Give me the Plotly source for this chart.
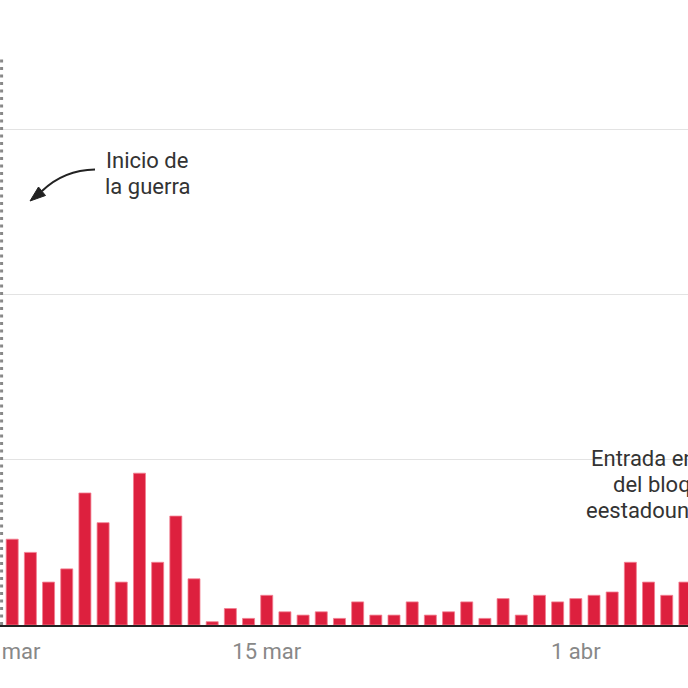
import plotly.graph_objects as go
import pandas as pd

# ---- data ----
start_date = "2026-03-01"
daily_values = [26, 22, 13, 17, 40, 31, 13, 46, 19, 33, 14, 1, 5, 2,
                9, 4, 3, 4, 2, 7, 3, 3, 7, 3, 4, 7, 2, 8, 3, 9, 7, 8,
                9, 10, 19, 13, 9, 13]
dates = pd.date_range(start_date, periods=len(daily_values), freq="D")
tick_dates = ["2026-03-01", "2026-03-15", "2026-04-01"]
tick_labels = ["1 mar", "15 mar", "1 abr"]
grid_values = [50, 100, 150]
war_start = "2026-02-28 10:00"
war_label = ["Inicio de", "la guerra"]
blockade_label = ["Entrada en vigor", "del bloqueo", "eestadounidense"]

W = H = 688
ML, MR, MT, MB = 0, 0, 55, 63
PW, PH = W - ML - MR, H - MT - MB


def px(x):
    return (x - ML) / PW


def py(y):
    return (H - MB - y) / PH


fig = go.Figure()
fig.add_trace(go.Bar(
    x=dates, y=daily_values,
    marker=dict(color="#DD203E", line=dict(color="#F27F91", width=0.8)),
    hoverinfo="skip",
))

fig.update_layout(
    width=W, height=H,
    margin=dict(l=ML, r=MR, t=MT, b=MB),
    paper_bgcolor="white", plot_bgcolor="white",
    bargap=0.34,
    showlegend=False,
    font=dict(family="Roboto", color="#333333"),
)
fig.update_xaxes(
    type="date",
    range=["2026-02-28 07:54", "2026-04-07 04:05"],
    tickmode="array", tickvals=tick_dates, ticktext=tick_labels,
    tickfont=dict(family="Roboto", size=22, color="#888888"),
    ticks="", showgrid=False, zeroline=False,
    showline=True, linecolor="#222222", linewidth=2,
    ticklabelstandoff=6,
    ticklabeloverflow="allow",
    automargin=False,
)
fig.update_yaxes(
    range=[0, 172.7],
    tickmode="array", tickvals=grid_values,
    showticklabels=False, ticks="",
    showgrid=True, gridcolor="#E3E3E3", gridwidth=1.2,
    zeroline=False, showline=False,
    automargin=False,
)

# war start dashed line
fig.add_shape(type="line", xref="x", yref="paper",
              x0=war_start, x1=war_start, y0=0, y1=1,
              line=dict(color="#888888", width=3, dash="3px,4.5px"),
              layer="above")

# curved arrow
path = (f"M {px(95)} {py(169.5)} Q {px(64)} {py(170)} {px(42)} {py(191)}")
fig.add_shape(type="path", xref="paper", yref="paper", path=path,
              line=dict(color="#222222", width=2))
head = (f"M {px(30)} {py(201)} L {px(45.5)} {py(195.5)} "
        f"L {px(38.5)} {py(187)} Z")
fig.add_shape(type="path", xref="paper", yref="paper", path=head,
              fillcolor="#222222", line=dict(color="#222222", width=1))

for i, line in enumerate(war_label):
    fig.add_annotation(xref="paper", yref="paper", x=px(147), y=py(160 + 26.6 * i),
                       text=line, showarrow=False, xanchor="center", yanchor="middle",
                       font=dict(family="Roboto", size=22, color="#333333"))
for i, line in enumerate(blockade_label):
    fig.add_annotation(xref="paper", yref="paper", x=px(670), y=py(458.5 + 26.2 * i),
                       text=line, showarrow=False, xanchor="center", yanchor="middle",
                       font=dict(family="Roboto", size=22, color="#333333"))

fig.write_html(
    "out.html",
    config={"displayModeBar": False},
    post_script="document.body.style.margin='0';document.body.style.overflow='hidden';",
)
